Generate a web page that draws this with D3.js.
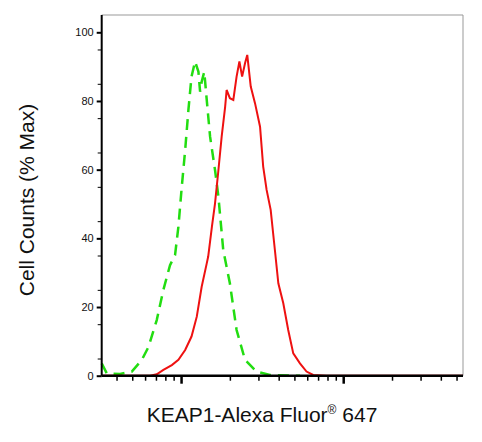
<!DOCTYPE html><html><head><meta charset="utf-8"><script src="https://cdn.jsdelivr.net/npm/d3@7"></script>
<style>body{margin:0;background:#fff}</style></head><body><svg id="c" width="482" height="442"></svg>
<script>
const yTicks=[0,20,40,60,80,100];
const greenX=[32.4,34.8,42.1,49.7,57.3,63,70.8,77.8,85.5,91.8,96.3,101,106,111,116,122,128,131,134,139,144,151,162,170,182,200,220,248,292,353,492,541];
const greenY=[3.6,0.7,0.5,1.2,4.6,8.4,16.2,25,32.2,35.1,43.4,55,65.7,77.4,87.1,91.5,88.5,82.7,85.6,88.5,80.3,69.6,59.9,52.1,36.6,26.9,13.3,4.6,1.2,0.2,0,0];
const redX=[32.4,64.4,70.8,77.8,87.7,96.3,106,116,125,134,144,147,155,162,170,178,187,191,200,210,220,229,238,248,256,269,286,307,321,337,357,379,398,427,458,492,541,594,653,789,5480];
const redY=[0,0,0.4,1.7,3.1,4.6,7.5,11.4,17.2,25.9,32.7,34.7,43.4,50.2,59.9,69.6,78.3,83.2,80.8,80.3,87.1,91.5,87.1,91,93.4,84.2,79.3,72.5,60.9,54.1,48.3,36.6,26.9,21.1,13.3,6.5,3.6,1.2,0.2,0,0];
const svg=d3.select("#c");
const L=101.7,R=463,T=15,B=375.7;
const x=d3.scaleLog().domain([32.4,5480]).range([L,R]);
const y=d3.scaleLinear().domain([0,100]).range([B,32.3]);
svg.append("line").attr("x1",L).attr("x2",R).attr("y1",T).attr("y2",T).attr("stroke","#999").attr("stroke-width",1);
svg.append("line").attr("x1",R).attr("x2",R).attr("y1",T).attr("y2",B).attr("stroke","#999").attr("stroke-width",1);
const line=d3.line().x(d=>x(d[0])).y(d=>y(d[1]));
svg.append("path").datum(greenX.map((v,i)=>[v,greenY[i]])).attr("d",line).attr("fill","none").attr("stroke","#22dd11").attr("stroke-width",2.5).attr("stroke-dasharray","11,7");
svg.append("path").datum(redX.map((v,i)=>[v,redY[i]])).attr("d",line).attr("fill","none").attr("stroke","#ee1111").attr("stroke-width",2);
const ya=svg.append("g").attr("transform",`translate(${L},0)`).call(d3.axisLeft(y).tickValues(yTicks).tickSize(5).tickSizeOuter(0));
ya.select(".domain").attr("d",`M0,${T}V${B}`).attr("stroke-width",2);
ya.selectAll("text").attr("font-family","Arial, Liberation Sans").attr("font-size",11).attr("fill","#111").attr("x",-8);
ya.selectAll(".tick line").attr("stroke-width",2);
svg.append("g").attr("transform",`translate(${L},0)`).call(d3.axisLeft(y).tickValues(d3.range(5,101,10)).tickSize(4).tickFormat("")).select(".domain").remove();
const minor=[];for(let d=10;d<=1000;d*=10)for(let k=2;k<=9;k++){const v=d*k;if(v>=33&&v<=5480)minor.push(v);}
const xa=svg.append("g").attr("transform",`translate(0,${B})`).call(d3.axisBottom(x).tickValues(minor).tickSize(5).tickFormat(""));
xa.select(".domain").attr("d",`M${L},0H${R}`).attr("stroke-width",2.5);
xa.selectAll(".tick line").attr("stroke-width",1.5);
svg.append("g").attr("transform",`translate(0,${B})`).call(d3.axisBottom(x).tickValues([100,1000]).tickSize(8).tickFormat("")).call(g=>g.select(".domain").remove()).selectAll("line").attr("stroke-width",2.5);
svg.append("text").attr("x",262).attr("y",422).attr("text-anchor","middle").attr("font-family","Arial, Liberation Sans").attr("font-size",21).attr("fill","#111")
 .html('KEAP1-Alexa Fluor<tspan font-size="12" dy="-8">®</tspan><tspan dy="8"> 647</tspan>');
svg.append("text").attr("transform","translate(34,200) rotate(-90)").attr("text-anchor","middle").attr("font-family","Arial, Liberation Sans").attr("font-size",21).attr("fill","#111").text("Cell Counts (% Max)");
</script></body></html>
